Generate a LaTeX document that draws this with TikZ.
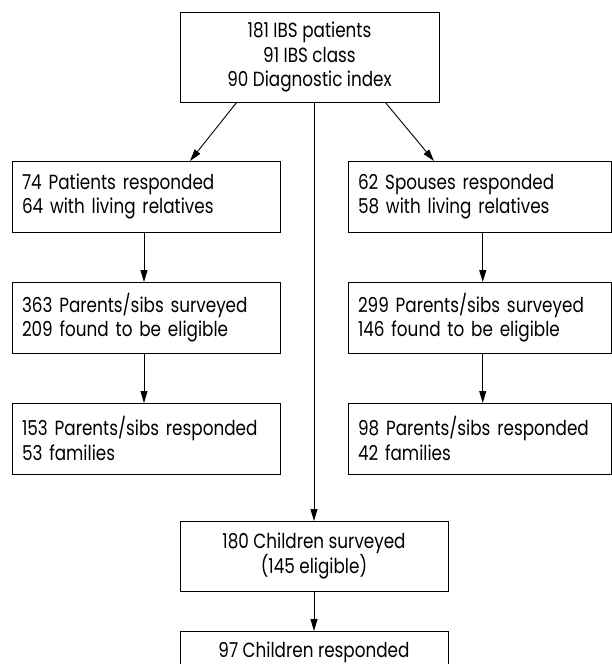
\documentclass[tikz,border=0pt]{standalone}
\usepackage{fontspec}
\setmainfont{Poppins}[FakeStretch=0.82]
\usetikzlibrary{arrows.meta}
\begin{document}
\begin{tikzpicture}[x=1pt,y=-1pt,
  box/.style={draw,line width=0.9pt,inner sep=0pt,outer sep=0pt,font=\fontsize{20.5}{24.5}\selectfont},
  topbox/.style={box,minimum width=259pt,minimum height=90pt,align=center},
  lbox/.style={box,minimum width=268pt,minimum height=71pt,text width=248pt,align=left},
  rbox/.style={box,minimum width=263.5pt,minimum height=71pt,text width=243.5pt,align=left},
  cbox/.style={box,minimum width=268pt,minimum height=70pt,align=center},
  arr/.style={draw,line width=0.9pt,-{Triangle[length=12pt,width=7pt]}}]
\useasboundingbox (0,0) rectangle (612,664);
\clip (0,0) rectangle (612,664);

\node[topbox] (ibs) at (309.5,57) {181 IBS patients\\91 IBS class\\90 Diagnostic index};
\node[lbox] (pat) at (146,196.5) {74 Patients responded\\64 with living relatives};
\node[rbox] (spo) at (479.75,196.5) {62 Spouses responded\\58 with living relatives};
\node[lbox] (lsurv) at (146,317.5) {363 Parents/sibs surveyed\\209 found to be eligible};
\node[rbox] (rsurv) at (479.75,317.5) {299 Parents/sibs surveyed\\146 found to be eligible};
\node[lbox] (lresp) at (146,438.5) {153 Parents/sibs responded\\53 families};
\node[rbox] (rresp) at (479.75,438.5) {98 Parents/sibs responded\\42 families};
\node[cbox] (csurv) at (314,556) {180 Children surveyed\\(145 eligible)};
\node[box,minimum width=268pt,inner ysep=11pt,anchor=north] (cresp) at (314,631) {97 Children responded};

\path[arr] ([xshift=-72.5pt]ibs.south) -- ([xshift=44pt]pat.north);
\path[arr] ([xshift=75.5pt]ibs.south) -- ([xshift=-45.75pt]spo.north);
\path[arr] (ibs.south -| csurv.north) -- (csurv.north);
\path[arr] ([xshift=-2pt]pat.south) -- ([xshift=-2pt]lsurv.north);
\path[arr] ([xshift=-2pt]lsurv.south) -- ([xshift=-2pt]lresp.north);
\path[arr] ([xshift=3pt]spo.south) -- ([xshift=3pt]rsurv.north);
\path[arr] ([xshift=3pt]rsurv.south) -- ([xshift=3pt]rresp.north);
\path[arr] (csurv.south) -- (cresp.north);
\end{tikzpicture}
\end{document}
